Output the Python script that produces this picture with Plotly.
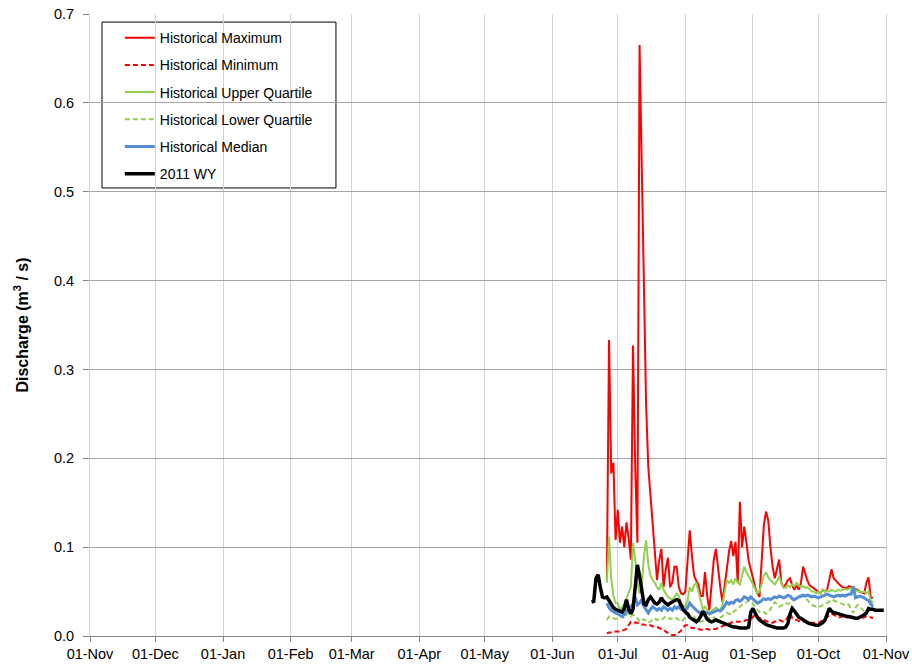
import pandas as pd
import plotly.graph_objects as go

# fechas de las series históricas (26-jun a 26-oct) y del año hidrológico 2011
hist_fechas = pd.date_range("2011-06-26", "2011-10-26", freq="D")
wy_fechas = pd.date_range("2011-06-19", "2011-10-31", freq="D")

hist_max = [
    0.063, 0.333, 0.183, 0.195, 0.108,
    0.142, 0.105, 0.123, 0.100, 0.128, 0.110, 0.086, 0.327, 0.190, 0.105,
    0.665, 0.530, 0.380, 0.260, 0.190, 0.160, 0.130, 0.095, 0.063, 0.085,
    0.098, 0.055, 0.075, 0.088, 0.055, 0.060, 0.078, 0.078, 0.055, 0.048, 0.047,
    0.050, 0.080, 0.119, 0.090, 0.068, 0.062, 0.058, 0.045, 0.045, 0.072,
    0.045, 0.029, 0.060, 0.085, 0.098, 0.075, 0.055, 0.038, 0.060, 0.075,
    0.095, 0.107, 0.090, 0.106, 0.060, 0.151, 0.100, 0.123, 0.105, 0.085, 0.075,
    0.063, 0.055, 0.048, 0.044, 0.085, 0.125, 0.140, 0.130, 0.100, 0.078,
    0.065, 0.075, 0.086, 0.060, 0.055, 0.058, 0.063, 0.065, 0.057, 0.052,
    0.057, 0.052, 0.060, 0.078, 0.070, 0.062, 0.057, 0.055, 0.053, 0.052,
    0.049, 0.048, 0.052, 0.050, 0.052, 0.065, 0.075, 0.065, 0.062, 0.060,
    0.057, 0.055, 0.054, 0.054, 0.056, 0.055, 0.052, 0.053, 0.051, 0.050,
    0.049, 0.048, 0.060, 0.066, 0.043, 0.043,
]

hist_min = [
    0.003, 0.004, 0.004, 0.005, 0.005,
    0.005, 0.005, 0.006, 0.007, 0.008, 0.012, 0.016, 0.016, 0.015, 0.015,
    0.014, 0.013, 0.013, 0.012, 0.012, 0.012, 0.011, 0.010, 0.010, 0.009,
    0.008, 0.007, 0.005, 0.003, 0.002, 0.001, 0.001, 0.002, 0.004, 0.006, 0.010,
    0.012, 0.012, 0.010, 0.009, 0.009, 0.009, 0.008, 0.007, 0.007, 0.008,
    0.008, 0.007, 0.007, 0.008, 0.008, 0.009, 0.010, 0.011, 0.012, 0.013,
    0.014, 0.015, 0.016, 0.016, 0.016, 0.016, 0.017, 0.017, 0.018, 0.018, 0.019,
    0.022, 0.024, 0.022, 0.020, 0.019, 0.018, 0.017, 0.016, 0.015, 0.015,
    0.016, 0.017, 0.018, 0.017, 0.016, 0.018, 0.022, 0.025, 0.020, 0.018,
    0.018, 0.017, 0.016, 0.016, 0.017, 0.016, 0.015, 0.015, 0.015, 0.015,
    0.015, 0.016, 0.018, 0.020, 0.022, 0.024, 0.025, 0.024, 0.022, 0.021,
    0.021, 0.022, 0.022, 0.021, 0.021, 0.021, 0.020, 0.020, 0.020, 0.020,
    0.020, 0.021, 0.022, 0.022, 0.021, 0.020,
]

hist_q3 = [
    0.060, 0.112, 0.065, 0.045, 0.037,
    0.037, 0.030, 0.032, 0.036, 0.042, 0.048, 0.055, 0.105, 0.086, 0.060,
    0.048, 0.055, 0.090, 0.108, 0.080, 0.068, 0.063, 0.060, 0.055, 0.052,
    0.060, 0.052, 0.048, 0.044, 0.042, 0.041, 0.044, 0.048, 0.045, 0.037, 0.034,
    0.033, 0.040, 0.055, 0.050, 0.057, 0.060, 0.050, 0.040, 0.030, 0.033,
    0.030, 0.026, 0.028, 0.030, 0.032, 0.030, 0.029, 0.035, 0.048, 0.063,
    0.060, 0.063, 0.058, 0.065, 0.060, 0.058, 0.068, 0.078, 0.072, 0.068, 0.063,
    0.058, 0.052, 0.048, 0.050, 0.060, 0.068, 0.072, 0.066, 0.063, 0.060,
    0.058, 0.062, 0.067, 0.060, 0.055, 0.054, 0.057, 0.055, 0.058, 0.056,
    0.060, 0.057, 0.055, 0.056, 0.054, 0.055, 0.052, 0.050, 0.050, 0.048,
    0.050, 0.048, 0.052, 0.050, 0.051, 0.050, 0.052, 0.051, 0.050, 0.052,
    0.051, 0.052, 0.053, 0.052, 0.053, 0.054, 0.053, 0.052, 0.050, 0.051,
    0.049, 0.050, 0.048, 0.050, 0.040, 0.037,
]

hist_q1 = [
    0.018, 0.022, 0.021, 0.020, 0.019,
    0.020, 0.021, 0.022, 0.020, 0.024, 0.026, 0.022, 0.024, 0.023, 0.020,
    0.016, 0.018, 0.019, 0.017, 0.015, 0.016, 0.019, 0.020, 0.018, 0.019,
    0.018, 0.020, 0.022, 0.021, 0.019, 0.020, 0.021, 0.020, 0.018, 0.016, 0.018,
    0.022, 0.024, 0.022, 0.021, 0.022, 0.018, 0.016, 0.016, 0.017, 0.016,
    0.018, 0.020, 0.022, 0.021, 0.019, 0.020, 0.021, 0.022, 0.025, 0.026,
    0.025, 0.024, 0.027, 0.029, 0.032, 0.034, 0.036, 0.037, 0.038, 0.040, 0.039,
    0.036, 0.032, 0.029, 0.027, 0.026, 0.027, 0.025, 0.028, 0.030, 0.035,
    0.038, 0.036, 0.033, 0.034, 0.036, 0.037, 0.036, 0.038, 0.040, 0.041,
    0.042, 0.043, 0.044, 0.045, 0.043, 0.040, 0.037, 0.035, 0.034, 0.033,
    0.034, 0.033, 0.035, 0.036, 0.037, 0.039, 0.041, 0.040, 0.039, 0.038,
    0.037, 0.036, 0.035, 0.036, 0.035, 0.030, 0.026, 0.032, 0.035, 0.033,
    0.030, 0.028, 0.026, 0.030, 0.030, 0.031,
]

hist_mediana = [
    0.037, 0.032, 0.029, 0.027, 0.026,
    0.025, 0.023, 0.022, 0.024, 0.028, 0.030, 0.033, 0.036, 0.044, 0.035,
    0.037, 0.041, 0.033, 0.030, 0.026, 0.030, 0.033, 0.031, 0.029, 0.031,
    0.029, 0.033, 0.031, 0.029, 0.031, 0.029, 0.033, 0.031, 0.033, 0.030, 0.029,
    0.029, 0.032, 0.037, 0.034, 0.031, 0.029, 0.027, 0.026, 0.026, 0.027,
    0.026, 0.025, 0.026, 0.027, 0.028, 0.029, 0.028, 0.030, 0.034, 0.038,
    0.036, 0.038, 0.037, 0.040, 0.041, 0.039, 0.041, 0.044, 0.043, 0.041, 0.044,
    0.042, 0.039, 0.037, 0.038, 0.040, 0.042, 0.041, 0.042, 0.041, 0.043,
    0.044, 0.043, 0.045, 0.044, 0.043, 0.044, 0.046, 0.045, 0.042, 0.041,
    0.043, 0.044, 0.045, 0.046, 0.045, 0.046, 0.045, 0.044, 0.045, 0.044,
    0.043, 0.044, 0.045, 0.046, 0.047, 0.046, 0.045, 0.044, 0.045, 0.046,
    0.045, 0.046, 0.045, 0.046, 0.047, 0.047, 0.056, 0.043, 0.044, 0.045,
    0.044, 0.043, 0.041, 0.040, 0.036, 0.033,
]

wy_2011 = [
    0.038, 0.039, 0.065, 0.069, 0.055, 0.044, 0.043, 0.044, 0.040, 0.035,
    0.032, 0.030,
    0.029, 0.028, 0.027, 0.031, 0.041, 0.030, 0.025, 0.030, 0.058, 0.080,
    0.068, 0.048, 0.036, 0.035, 0.041, 0.044, 0.040, 0.037, 0.036, 0.038,
    0.043, 0.039, 0.037, 0.035, 0.037, 0.038, 0.039, 0.041, 0.040, 0.034, 0.030,
    0.027, 0.025, 0.021, 0.019, 0.017, 0.016, 0.018, 0.022, 0.028, 0.024,
    0.019, 0.017, 0.016, 0.017, 0.018, 0.017, 0.016, 0.015, 0.013, 0.012,
    0.012, 0.011, 0.010, 0.010, 0.009, 0.009, 0.009, 0.009, 0.009, 0.010, 0.027,
    0.031, 0.025, 0.021, 0.018, 0.016, 0.014, 0.013, 0.012, 0.011, 0.010,
    0.010, 0.009, 0.009, 0.009, 0.009, 0.010, 0.014, 0.025, 0.031, 0.028,
    0.025, 0.021, 0.020, 0.018, 0.017, 0.015, 0.014, 0.013, 0.012, 0.012,
    0.012, 0.013, 0.015, 0.018, 0.024, 0.031, 0.028, 0.026, 0.026, 0.025,
    0.024, 0.024, 0.023, 0.022, 0.022, 0.021, 0.020, 0.020, 0.020, 0.021,
    0.023, 0.024, 0.026, 0.031, 0.030, 0.030, 0.029, 0.029, 0.029, 0.029, 0.029,
]

SERIES = [
    ('Historical Maximum', hist_fechas, hist_max, '#FF0000', 2, 'solid'),
    ('Historical Minimum', hist_fechas, hist_min, '#FF0000', 2, '5px,3px'),
    ('Historical Upper Quartile', hist_fechas, hist_q3, '#92D050', 2, 'solid'),
    ('Historical Lower Quartile', hist_fechas, hist_q1, '#92D050', 2, '5px,3px'),
    ('Historical Median', hist_fechas, hist_mediana, '#558ED5', 3, 'solid'),
    ('2011 WY', wy_fechas, wy_2011, '#000000', 3.5, 'solid'),
]

FUENTE = 'Liberation Sans, Arial, sans-serif'

fig = go.Figure()
for nombre, fechas, valores, color, ancho, guion in SERIES:
    fig.add_trace(go.Scatter(
        x=fechas,
        y=valores,
        mode='lines',
        name=nombre,
        legendgroup=nombre,
        line=dict(color=color, width=ancho, dash=guion),
    ))

# marco de la leyenda (más ancho que el que calcula plotly)
fig.add_shape(
    type='rect',
    xref='paper', yref='paper',
    x0=0.0151, x1=0.309, y0=0.7203, y1=0.987,
    fillcolor='white',
    line=dict(color='#000000', width=1),
    layer='below',
)

fig.update_layout(
    width=912,
    height=664,
    margin=dict(l=90, r=26, t=14, b=28),
    paper_bgcolor='white',
    plot_bgcolor='white',
    font=dict(family=FUENTE, size=14, color='#000000'),
    showlegend=True,
    legend=dict(
        x=0.0375,
        y=0.987,
        xanchor='left',
        yanchor='top',
        bgcolor='rgba(0,0,0,0)',
        borderwidth=0,
        font=dict(size=14),
        traceorder='grouped',
        tracegroupgap=6,
    ),
    xaxis=dict(
        type='date',
        range=['2010-11-01', '2011-11-01'],
        tick0='2010-11-01',
        dtick='M1',
        tickformat='%d-%b',
        showgrid=True,
        gridcolor='#D4D4D4',
        gridwidth=1,
        showline=True,
        linecolor='#868686',
        linewidth=1,
        ticks='outside',
        ticklen=5,
        tickcolor='#868686',
        tickfont=dict(size=14.5),
        ticklabeloverflow='allow',
        zeroline=False,
        automargin=False,
    ),
    yaxis=dict(
        range=[0, 0.70001],
        dtick=0.1,
        tickformat='.1f',
        showgrid=True,
        gridcolor='#A6A6A6',
        gridwidth=1,
        showline=True,
        linecolor='#D4D4D4',
        mirror=True,
        ticks='outside',
        ticklen=6,
        tickcolor='#868686',
        tickfont=dict(size=14.5),
        ticklabelstandoff=6,
        ticklabeloverflow='allow',
        zeroline=False,
        automargin=False,
        title=dict(
            text='<b>Discharge (m<sup>3</sup> / s)</b>',
            font=dict(size=16),
            standoff=21,
        ),
    ),
)

# sin el margen de 8 px que el navegador pone al body, y sin barra de herramientas
fig.write_html(
    "out.html",
    config={'displayModeBar': False},
    post_script="document.body.style.margin='0';",
)
